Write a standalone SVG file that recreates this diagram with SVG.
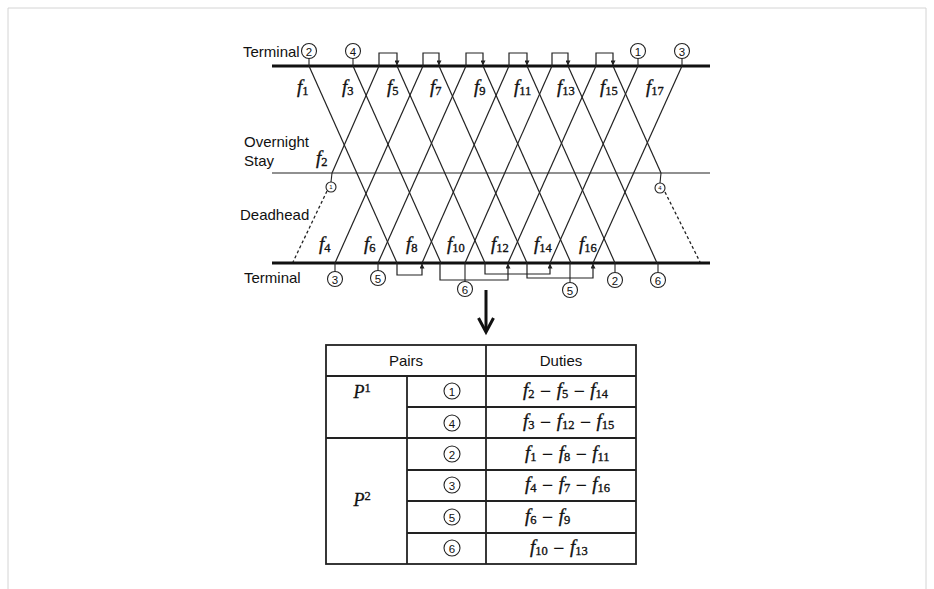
<svg xmlns="http://www.w3.org/2000/svg" width="934" height="589" viewBox="0 0 934 589">
<defs>
<style>
.bg{fill:#fff}
.frame{stroke:#d4d4d4;stroke-width:1;fill:none}
.term{stroke:#111;stroke-width:3.2;fill:none}
.thin{stroke:#222;stroke-width:1.1;fill:none}
.fl{stroke:#222;stroke-width:1.2;fill:none}
.br{stroke:#222;stroke-width:1.2;fill:none}
.dash{stroke:#222;stroke-width:1.3;fill:none;stroke-dasharray:3 2.5}
.cir{stroke:#222;stroke-width:1.1;fill:#fff}
.lab{font-family:"Liberation Sans","Noto Sans",sans-serif;font-size:15px;fill:#111}
.num{font-family:"Liberation Sans","Noto Sans",sans-serif;font-size:11.5px;fill:#111;text-anchor:middle}
.snum{font-family:"Liberation Sans","Noto Sans",sans-serif;font-size:6px;fill:#111;text-anchor:middle}
.f{font-family:"Liberation Serif","DejaVu Serif",serif;font-style:italic;font-size:19px;fill:#111;stroke:#111;stroke-width:0.35}
.sb{font-style:normal;font-size:12.5px}
.op{font-style:normal;font-family:"DejaVu Sans","Liberation Sans",sans-serif;font-size:15px;stroke-width:0}
.tb{stroke:#222;stroke-width:1.8;fill:none}
.th{font-family:"Liberation Sans","Noto Sans",sans-serif;font-size:15px;fill:#111;text-anchor:middle}
.P{font-family:"Liberation Serif","DejaVu Serif",serif;font-style:italic;font-size:18px;fill:#111;text-anchor:middle;stroke:#111;stroke-width:0.3}
.arr{stroke:#111;stroke-width:3;fill:none}
</style>
<marker id="ah" viewBox="0 0 6 6" refX="5.5" refY="3" markerWidth="5" markerHeight="5" orient="auto" markerUnits="userSpaceOnUse">
<path d="M0,0 L6,3 L0,6 Z" fill="#222"/>
</marker>
</defs>
<rect class="bg" x="0" y="0" width="934" height="589"/>
<path class="frame" d="M8,589 V8 H926 V589"/>

<g id="axes">
<line class="term" x1="272" y1="66" x2="710" y2="66"/>
<line class="thin" x1="272" y1="173" x2="710" y2="173"/>
<line class="term" x1="272" y1="263" x2="710" y2="263"/>
<text class="lab" x="243" y="57">Terminal</text>
<text class="lab" x="244" y="147">Overnight</text>
<text class="lab" x="244" y="166">Stay</text>
<text class="lab" x="240" y="220">Deadhead</text>
<text class="lab" x="244" y="283">Terminal</text>
</g>

<g id="connectors">
<line class="fl" x1="309" y1="66" x2="397" y2="263"/>
<line class="fl" x1="353" y1="66" x2="441" y2="263"/>
<line class="fl" x1="397" y1="66" x2="485" y2="263"/>
<line class="fl" x1="439" y1="66" x2="527" y2="263"/>
<line class="fl" x1="483" y1="66" x2="571" y2="263"/>
<line class="fl" x1="527" y1="66" x2="615" y2="263"/>
<line class="fl" x1="568" y1="66" x2="657" y2="263"/>
<line class="fl" x1="613" y1="66" x2="661" y2="173"/>
<line class="fl" x1="332" y1="173" x2="379" y2="66"/>
<line class="fl" x1="335" y1="263" x2="423" y2="66"/>
<line class="fl" x1="378" y1="263" x2="466" y2="66"/>
<line class="fl" x1="422" y1="263" x2="509" y2="66"/>
<line class="fl" x1="465" y1="263" x2="552" y2="66"/>
<line class="fl" x1="508" y1="263" x2="596" y2="66"/>
<line class="fl" x1="550" y1="263" x2="638" y2="66"/>
<line class="fl" x1="593" y1="263" x2="682" y2="66"/>
<path class="br" d="M379,66 V53 H397 V65" marker-end="url(#ah)"/>
<path class="br" d="M423,66 V53 H439 V65" marker-end="url(#ah)"/>
<path class="br" d="M466,66 V53 H483 V65" marker-end="url(#ah)"/>
<path class="br" d="M509,66 V53 H527 V65" marker-end="url(#ah)"/>
<path class="br" d="M552,66 V53 H568 V65" marker-end="url(#ah)"/>
<path class="br" d="M596,66 V53 H613 V65" marker-end="url(#ah)"/>
<path class="br" d="M397,263 V275 H422 V264" marker-end="url(#ah)"/>
<path class="br" d="M440,263 V280 H508 V264" marker-end="url(#ah)"/>
<path class="br" d="M485,263 V274 H550 V264" marker-end="url(#ah)"/>
<path class="br" d="M527,263 V278 H593 V264" marker-end="url(#ah)"/>
<line class="thin" x1="309" y1="58" x2="309" y2="66"/>
<line class="thin" x1="353" y1="58" x2="353" y2="66"/>
<line class="thin" x1="638" y1="58" x2="638" y2="66"/>
<line class="thin" x1="682" y1="58" x2="682" y2="66"/>
<line class="thin" x1="335" y1="263" x2="335" y2="272"/>
<line class="thin" x1="378" y1="263" x2="378" y2="271"/>
<line class="thin" x1="465" y1="263" x2="465" y2="281"/>
<line class="thin" x1="570" y1="263" x2="570" y2="282"/>
<line class="thin" x1="615" y1="263" x2="615" y2="272"/>
<line class="thin" x1="658" y1="263" x2="658" y2="272"/>
<line class="thin" x1="332" y1="173" x2="331" y2="182"/>
<line class="thin" x1="661" y1="173" x2="660" y2="183"/>
<line class="dash" x1="327" y1="191" x2="293" y2="262"/>
<line class="dash" x1="665" y1="192" x2="700" y2="262"/>
</g>

<g id="node-circles-top">
<circle class="cir" cx="309" cy="51" r="7.5"/><text class="num" x="309" y="55.5">2</text>
<circle class="cir" cx="353" cy="51" r="7.5"/><text class="num" x="353" y="55.5">4</text>
<circle class="cir" cx="638" cy="51" r="7.5"/><text class="num" x="638" y="55.5">1</text>
<circle class="cir" cx="682" cy="51" r="7.5"/><text class="num" x="682" y="55.5">3</text>
</g>
<g id="node-circles-bottom">
<circle class="cir" cx="335" cy="279" r="7.5"/><text class="num" x="335" y="283.5">3</text>
<circle class="cir" cx="378" cy="278" r="7.5"/><text class="num" x="378" y="282.5">5</text>
<circle class="cir" cx="465" cy="289" r="7.5"/><text class="num" x="465" y="293.5">6</text>
<circle class="cir" cx="570" cy="290" r="7.5"/><text class="num" x="570" y="294.5">5</text>
<circle class="cir" cx="615" cy="280" r="7.5"/><text class="num" x="615" y="284.5">2</text>
<circle class="cir" cx="658" cy="280" r="7.5"/><text class="num" x="658" y="284.5">6</text>
</g>
<g id="node-circles-overnight">
<circle class="cir" cx="331" cy="187" r="5"/><text class="snum" x="331" y="189">1</text>
<circle class="cir" cx="660" cy="188" r="5"/><text class="snum" x="660" y="190">4</text>
</g>

<g id="flight-labels">
<text class="f" x="297" y="93">f<tspan class="sb" dy="2">1</tspan></text>
<text class="f" x="342" y="93">f<tspan class="sb" dy="2">3</tspan></text>
<text class="f" x="387" y="93">f<tspan class="sb" dy="2">5</tspan></text>
<text class="f" x="430" y="93">f<tspan class="sb" dy="2">7</tspan></text>
<text class="f" x="474" y="93">f<tspan class="sb" dy="2">9</tspan></text>
<text class="f" x="514" y="93">f<tspan class="sb" dy="2">11</tspan></text>
<text class="f" x="557" y="93">f<tspan class="sb" dy="2">13</tspan></text>
<text class="f" x="600" y="93">f<tspan class="sb" dy="2">15</tspan></text>
<text class="f" x="646" y="93">f<tspan class="sb" dy="2">17</tspan></text>
<text class="f" x="316" y="164">f<tspan class="sb" dy="2">2</tspan></text>
<text class="f" x="319" y="250">f<tspan class="sb" dy="2">4</tspan></text>
<text class="f" x="364" y="250">f<tspan class="sb" dy="2">6</tspan></text>
<text class="f" x="406" y="250">f<tspan class="sb" dy="2">8</tspan></text>
<text class="f" x="447" y="250">f<tspan class="sb" dy="2">10</tspan></text>
<text class="f" x="491" y="250">f<tspan class="sb" dy="2">12</tspan></text>
<text class="f" x="534" y="250">f<tspan class="sb" dy="2">14</tspan></text>
<text class="f" x="579" y="250">f<tspan class="sb" dy="2">16</tspan></text>
</g>

<g id="transform-arrow">
<line class="arr" x1="486" y1="290" x2="486" y2="331"/>
<polyline class="arr" points="478.5,318 486,332 493.5,318"/>
</g>

<g id="table">
<rect class="tb" x="326" y="345" width="310" height="219"/>
<line class="tb" x1="326" y1="376" x2="636" y2="376"/>
<line class="tb" x1="407" y1="407" x2="636" y2="407"/>
<line class="tb" x1="326" y1="438" x2="636" y2="438"/>
<line class="tb" x1="407" y1="470" x2="636" y2="470"/>
<line class="tb" x1="407" y1="501" x2="636" y2="501"/>
<line class="tb" x1="407" y1="533" x2="636" y2="533"/>
<line class="tb" x1="486" y1="345" x2="486" y2="564"/>
<line class="tb" x1="407" y1="376" x2="407" y2="564"/>
<text class="th" x="406" y="366">Pairs</text>
<text class="th" x="561" y="366">Duties</text>
<text class="P" x="362" y="398">P<tspan class="sb" dy="-6">1</tspan></text>
<text class="P" x="362" y="506">P<tspan class="sb" dy="-6">2</tspan></text>
<circle class="cir" cx="452" cy="391" r="8"/><text class="num" x="452" y="395.5">1</text>
<circle class="cir" cx="452" cy="423" r="8"/><text class="num" x="452" y="427.5">4</text>
<circle class="cir" cx="452" cy="454" r="8"/><text class="num" x="452" y="458.5">2</text>
<circle class="cir" cx="452" cy="485" r="8"/><text class="num" x="452" y="489.5">3</text>
<circle class="cir" cx="452" cy="517" r="8"/><text class="num" x="452" y="521.5">5</text>
<circle class="cir" cx="452" cy="548" r="8"/><text class="num" x="452" y="552.5">6</text>
<text class="f" x="523" y="396">f<tspan class="sb" dy="2">2</tspan><tspan class="op" dy="-2"> − </tspan>f<tspan class="sb" dy="2">5</tspan><tspan class="op" dy="-2"> − </tspan>f<tspan class="sb" dy="2">14</tspan></text>
<text class="f" x="523" y="427">f<tspan class="sb" dy="2">3</tspan><tspan class="op" dy="-2"> − </tspan>f<tspan class="sb" dy="2">12</tspan><tspan class="op" dy="-2"> − </tspan>f<tspan class="sb" dy="2">15</tspan></text>
<text class="f" x="525" y="459">f<tspan class="sb" dy="2">1</tspan><tspan class="op" dy="-2"> − </tspan>f<tspan class="sb" dy="2">8</tspan><tspan class="op" dy="-2"> − </tspan>f<tspan class="sb" dy="2">11</tspan></text>
<text class="f" x="525" y="490">f<tspan class="sb" dy="2">4</tspan><tspan class="op" dy="-2"> − </tspan>f<tspan class="sb" dy="2">7</tspan><tspan class="op" dy="-2"> − </tspan>f<tspan class="sb" dy="2">16</tspan></text>
<text class="f" x="525" y="522">f<tspan class="sb" dy="2">6</tspan><tspan class="op" dy="-2"> − </tspan>f<tspan class="sb" dy="2">9</tspan></text>
<text class="f" x="530" y="553">f<tspan class="sb" dy="2">10</tspan><tspan class="op" dy="-2"> − </tspan>f<tspan class="sb" dy="2">13</tspan></text>
</g>
</svg>
